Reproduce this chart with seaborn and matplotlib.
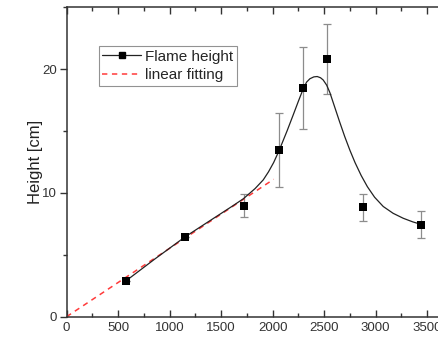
import matplotlib
matplotlib.use("Agg")
import matplotlib.pyplot as plt
from matplotlib.lines import Line2D
from matplotlib.ticker import MultipleLocator
import pandas as pd
import seaborn as sns

# Measured flame heights with their uncertainties
heat_release = [576, 1149, 1721, 2064, 2297, 2524, 2873, 3443]
flame_height = [2.9, 6.44, 8.98, 13.44, 18.49, 20.8, 8.82, 7.44]
height_err = [0.0, 0.0, 0.93, 3.0, 3.3, 2.85, 1.07, 1.1]

# Smooth trend curve through the measurements
curve_x = [576, 860, 1149, 1300, 1450, 1600, 1715, 1830, 1909, 1960, 2010, 2061,
           2140, 2200, 2250, 2297, 2330, 2362, 2400, 2433, 2465, 2491, 2525, 2556,
           2600, 2650, 2700, 2750, 2800, 2860, 2920, 2990, 3074, 3170, 3268, 3360, 3447]
curve_y = [2.89, 4.68, 6.44, 7.26, 8.07, 8.88, 9.52, 10.35, 11.05, 11.7, 12.45, 13.38,
           15.0, 16.3, 17.4, 18.4, 18.95, 19.22, 19.37, 19.4, 19.3, 19.12, 18.7, 18.1,
           17.0, 15.75, 14.55, 13.45, 12.45, 11.4, 10.5, 9.65, 8.9, 8.35, 7.95, 7.66, 7.44]

# Linear fit over the low heat-release range
fit_x = [0, 2010]
fit_y = [0.0, 11.1]

points = pd.DataFrame({"Q": heat_release, "H": flame_height, "err": height_err})
curve = pd.DataFrame({"Q": curve_x, "H": curve_y})
fit = pd.DataFrame({"Q": fit_x, "H": fit_y})

sns.set_style("ticks")
plt.rcParams["font.family"] = ["Liberation Sans", "DejaVu Sans"]

fig = plt.figure(figsize=(4.38, 3.39), dpi=100)
ax = fig.add_axes([0.152, 0.0658, 0.882, 0.913])

red = "#ff3b3b"
dash = (0, (3.5, 3))

sns.lineplot(data=fit, x="Q", y="H", ax=ax, color=red, lw=1.1,
             linestyle=dash, zorder=2)
sns.lineplot(data=curve, x="Q", y="H", ax=ax, color="#222222", lw=0.9,
             sort=False, zorder=3)
ax.errorbar(points["Q"], points["H"], yerr=points["err"], fmt="none",
            ecolor="#8c8c8c", elinewidth=0.9, capsize=3.2, capthick=0.9, zorder=1)
sns.scatterplot(data=points, x="Q", y="H", ax=ax, marker="s", s=32,
                color="black", edgecolor="black", linewidth=0, zorder=4)

ax.set_xlim(0, 3750)
ax.set_ylim(0, 25)
ax.xaxis.set_major_locator(MultipleLocator(500))
ax.xaxis.set_minor_locator(MultipleLocator(250))
ax.yaxis.set_major_locator(MultipleLocator(10))
ax.yaxis.set_minor_locator(MultipleLocator(5))

ax.tick_params(axis="x", which="both", direction="in", top=True, bottom=True,
               labelsize=9.5, colors="#333333", pad=4)
ax.tick_params(axis="x", which="major", length=5, width=1)
ax.tick_params(axis="x", which="minor", length=3, width=1)
ax.tick_params(axis="y", which="both", direction="out", left=True, right=False,
               labelsize=9.5, colors="#333333", pad=2)
ax.tick_params(axis="y", which="major", length=5, width=1)
ax.tick_params(axis="y", which="minor", length=3, width=1)

for side in ["left", "bottom", "top", "right"]:
    ax.spines[side].set_visible(True)
    ax.spines[side].set_color("#333333")
    ax.spines[side].set_linewidth(1.1)

ax.set_xlabel("")
ax.set_ylabel("Height [cm]", fontsize=12, color="#222222", labelpad=-0.5)

handles = [
    Line2D([], [], color="#222222", lw=0.9, marker="s", markersize=5,
           markerfacecolor="black", markeredgecolor="black"),
    Line2D([], [], color=red, lw=1.1, linestyle=dash),
]
leg = ax.legend(handles, ["Flame height", "linear fitting"], loc="upper left",
                bbox_to_anchor=(0.083, 0.875), frameon=True, fancybox=False,
                fontsize=11, handlelength=2.5, handletextpad=0.3,
                borderpad=0.25, labelspacing=0.3, borderaxespad=0)
leg.get_frame().set_edgecolor("#777777")
leg.get_frame().set_linewidth(0.8)

fig.savefig("out.png", dpi=100)
